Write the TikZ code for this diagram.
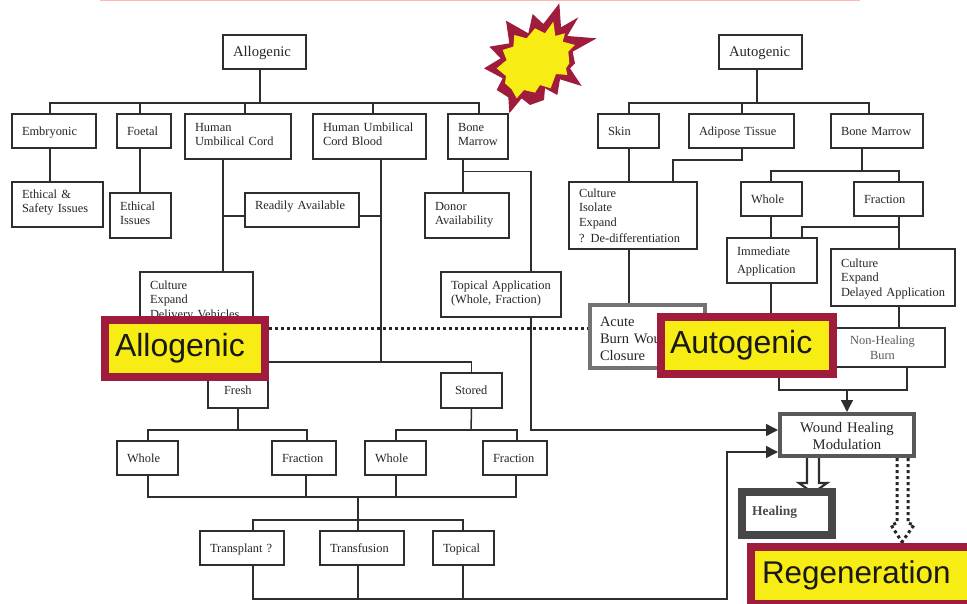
\documentclass[tikz,border=0pt]{standalone}
\usepackage{fontspec}
\setmainfont{Liberation Serif}
\newfontfamily\ovfont{Liberation Sans}
\usetikzlibrary{arrows.meta,calc}
\pgfdeclarelayer{wires}\pgfsetlayers{wires,main}
\definecolor{ink}{HTML}{2E2E2E}
\definecolor{crim}{HTML}{A01C3C}
\definecolor{yel}{HTML}{F7EC13}
\newcommand{\lift}[1]{\rule[-#1pt]{0pt}{#1pt}}
\tikzset{
  bx/.style 2 args={draw=ink,line width=1.5pt,fill=white,inner xsep=10pt,inner ysep=0pt,
    text width=#1pt-20pt,minimum height=#2pt,align=left,text=black!85,
    font=\fontsize{12.4}{14.3}\selectfont,
    execute at begin node={\strut\rule{0pt}{13pt}},execute at end node=\strut},
  big/.style={font=\fontsize{14.7}{17}\selectfont},
  wire/.style={draw=ink,line width=1.5pt},
  tip/.style={-{Triangle[length=12pt,width=12pt]}},
  dots/.style={draw=black!85,line width=3pt,dash pattern=on 3pt off 3pt},
  ov/.style 2 args={draw=crim,line width=7.5pt,fill=yel,inner xsep=10pt,inner ysep=0pt,
    text width=#1pt-20pt,minimum height=#2pt,align=left,text=black!90,
    font=\ovfont\fontsize{32}{36}\selectfont},
}
\begin{document}
\begin{tikzpicture}[x=1pt,y=-1pt]
\path[use as bounding box,clip] (0,0) rectangle (967,604);
\coordinate (busA) at (260,103);
\coordinate (busB) at (757,103);
\coordinate (busU) at (381,362);
\coordinate (busF) at (238,430);
\coordinate (busS) at (471,430);
\coordinate (busT) at (358,497);
\coordinate (busP) at (358,520);
\coordinate (busQ) at (358,599);
\coordinate (busM) at (862,171);
\coordinate (busH) at (847,390);
\coordinate (brA) at (531,171);
\coordinate (brB) at (742,160);
\coordinate (brC) at (899,227);
\coordinate (jL) at (223,216);
\coordinate (jR) at (381,216);
\coordinate (jW) at (727,452);

\node[bx={83}{34},big] (alloT) at (264.5,52) {\rule{0pt}{15pt}Allogenic};
\node[bx={84}{34}] (emb) at (54,131) {Embryonic};
\node[bx={54}{34}] (foe) at (144,131) {Foetal};
\node[bx={106}{45}] (huc) at (238,136.5) {Human\\Umbilical Cord\lift{8.7}};
\node[bx={113}{45}] (hucb) at (369.5,136.5) {Human Umbilical\\Cord Blood\lift{8.7}};
\node[bx={60}{45}] (bm) at (478,136.5) {Bone\\Marrow\lift{8.7}};
\node[bx={91}{45}] (eth) at (57.5,204.5) {Ethical \&\\Safety Issues\lift{10.7}};
\node[bx={61}{45}] (ethi) at (140.5,215.5) {Ethical\\Issues\lift{9.3}};
\node[bx={114}{34}] (ready) at (302,210) {Readily Available\lift{13}};
\node[bx={84}{45}] (donor) at (467,215.5) {Donor\\Availability\lift{9.3}};
\node[bx={113}{55}] (cult) at (196.5,299.5) {Culture\\Expand\\Delivery Vehicles};
\node[bx={120}{45}] (topap) at (501,294.5) {Topical Application\\(Whole, Fraction)\lift{8.7}};
\node[bx={60}{35},inner xsep=16pt,text width=28pt] (fresh) at (238,390.5) {Fresh};
\node[bx={61}{35},inner xsep=14pt,text width=33pt] (stored) at (471.5,390.5) {Stored};
\node[bx={61}{34}] (w1) at (147.5,458) {Whole};
\node[bx={64}{34}] (f1) at (304,458) {Fraction};
\node[bx={61}{34}] (w2) at (395.5,458) {Whole};
\node[bx={64}{34}] (f2) at (515,458) {Fraction};
\node[bx={84}{34}] (trans) at (242,548) {Transplant ?};
\node[bx={84}{34}] (transf) at (362,548) {Transfusion};
\node[bx={61}{34}] (topic) at (463.5,548) {Topical};
\node[bx={83}{34},big] (autoT) at (760.5,52) {\rule{0pt}{15pt}Autogenic};
\node[bx={61}{34}] (skin) at (628.5,131) {Skin};
\node[bx={105}{34}] (adip) at (741.5,131) {Adipose Tissue};
\node[bx={92}{34}] (bm2) at (877,131) {Bone Marrow};
\node[bx={128}{67}] (clt) at (633,215.5) {Culture\\Isolate\\Expand\\[1.5pt]? De-differentiation};
\node[bx={61}{34}] (w3) at (771.5,199) {Whole};
\node[bx={69}{34}] (f3) at (888.5,199) {Fraction};
\node[bx={90}{45},font=\fontsize{12.4}{18}\selectfont] (imm) at (772,260.5) {Immediate\\Application};
\node[bx={124}{57}] (delay) at (893,277.5) {Culture\\Expand\\Delayed Application};
\node[bx={115}{63},draw=black!55,line width=3.5pt,font=\fontsize{14.5}{17}\selectfont] (acute) at (647.5,336.5) {\rule{0pt}{20pt}Acute\\Burn Wound\\Closure};
\node[bx={125}{39},align=center,text=black!65] (nonh) at (882.5,347.5) {Non-Healing\\Burn};
\node[bx={134}{42},draw=black!65,line width=4pt,align=center,font=\fontsize{14.7}{17}\selectfont] (wound) at (847,435) {\rule{0pt}{18pt}Wound Healing\\Modulation};
\node[bx={90}{43},draw=black!72,line width=7.5pt,text=black!70,font=\bfseries\fontsize{13.5}{16}\selectfont] (heal) at (787,513.5) {Healing\lift{9}};
\node[ov={160}{57}] (allo) at (185,348.5) {Allogenic};
\node[ov={172}{57},inner xsep=9pt,text width=154pt] (autoO) at (747,345.5) {Autogenic};
\node[ov={224}{57},inner xsep=11pt,text width=202pt,font=\ovfont\fontsize{31.4}{36}\selectfont] (regen) at (863,575.5) {Regeneration};

\begin{pgfonlayer}{wires}
\fill[white] (0,0) rectangle (967,604);
\fill[red!50!pink!45] (100,0) rectangle (860,1.3);
\draw[wire] (alloT.south -| busA) -- (busA);
\draw[wire] (emb.north -| 50,0) |- (busA);
\draw[wire] (foe.north -| 140,0) |- (busA);
\draw[wire] (huc.north -| 245,0) |- (busA);
\draw[wire] (hucb.north -| 373,0) |- (busA);
\draw[wire] (bm.north -| 479,0) |- (busA);
\draw[wire] (emb.south -| 50,0) -- (eth.north -| 50,0);
\draw[wire] (foe.south -| 140,0) -- (ethi.north -| 140,0);
\draw[wire] (huc.south -| 223,0) -- (cult.north -| 223,0);
\draw[wire] (ready.west |- jL) -- (jL);
\draw[wire] (ready.east |- jR) -- (jR);
\draw[wire] (hucb.south -| busU) -- (busU);
\draw[wire] (fresh.north) |- (busU);
\draw[wire] (stored.north) |- (busU);
\draw[wire] (bm.south -| 463,0) -- (donor.north -| 463,0);
\draw[wire] (bm.south -| 463,0) ++(0,12) -| (brA) -- (topap.north -| brA);
\draw[wire,tip] (topap.south -| brA) |- (wound.west |- 0,430);
\draw[wire] (fresh.south) -- (busF);
\draw[wire] (w1.north -| 148,0) |- (busF);
\draw[wire] (f1.north -| 307,0) |- (busF);
\draw[wire] (stored.south) -- (busS);
\draw[wire] (w2.north -| 396,0) |- (busS);
\draw[wire] (f2.north -| 517,0) |- (busS);
\draw[wire] (w1.south -| 148,0) |- (busT);
\draw[wire] (f1.south -| 306,0) |- (busT);
\draw[wire] (w2.south -| 396,0) |- (busT);
\draw[wire] (f2.south -| 516,0) |- (busT);
\draw[wire] (busT) -- (transf.north -| busT);
\draw[wire] (trans.north -| 253,0) |- (busP);
\draw[wire] (topic.north -| 463,0) |- (busP);
\draw[wire] (trans.south -| 253,0) |- (busQ);
\draw[wire] (transf.south -| busQ) -- (busQ);
\draw[wire] (topic.south -| 463,0) |- (busQ);
\draw[wire,tip] (busQ) -| (jW) -- (wound.west |- jW);
\draw[wire] (autoT.south -| busB) -- (busB);
\draw[wire] (skin.north -| 629,0) |- (busB);
\draw[wire] (adip.north -| 742,0) |- (busB);
\draw[wire] (bm2.north -| 869,0) |- (busB);
\draw[wire] (skin.south -| 629,0) -- (clt.north -| 629,0);
\draw[wire] (adip.south -| brB) -- (brB) -| (clt.north -| 673,0);
\draw[wire] (bm2.south -| busM) -- (busM);
\draw[wire] (w3.north -| 771,0) |- (busM);
\draw[wire] (f3.north -| 899,0) |- (busM);
\draw[wire] (w3.south -| 771,0) -- (imm.north -| 771,0);
\draw[wire] (imm.south -| 771,0) -- (autoO.north -| 771,0);
\draw[wire] (f3.south -| brC) -- (delay.north -| brC);
\draw[wire] (brC) -| (imm.north -| 802,0);
\draw[wire] (delay.south -| brC) -- (nonh.north -| brC);
\draw[wire] (clt.south -| 629,0) -- (acute.north -| 629,0);
\draw[wire] (autoO.south -| 779,0) |- (busH);
\draw[wire] (nonh.south -| 907,0) |- (busH);
\draw[wire,tip] (busH) -- (wound.north -| busH);
\draw[dots] (allo.east |- 0,328) -- (acute.west |- 0,328);
\draw[wire,line width=2.2pt] (wound.south -| 807,0) -- (807,483) -- (799,483) -- (813,493) -- (827,483) -- (819,483) -- (wound.south -| 819,0);
\draw[dots] (wound.south -| 897,0) -- (897,523) -- (891,525) -- (902,542) -- (regen.north -| 902,0);
\draw[dots] (wound.south -| 908,0) -- (908,523) -- (914,525) -- (902,542);
\end{pgfonlayer}

\begin{scope}[shift={(480,0)},x=0.3333pt,y=-0.3333pt]
\fill[crim] (238,10)--(243,82)--(295,52)--(262,108)--(350,115)--(278,155)--(285,190)--(270,205)--(305,258)--(240,238)--(232,285)--(195,265)--(192,300)--(150,315)--(125,295)--(88,340)--(85,292)--(50,270)--(68,235)--(12,205)--(62,175)--(28,140)--(88,130)--(78,62)--(145,100)--(158,42)--(190,72)--cycle;
\fill[yel] (220,65)--(226,108)--(255,100)--(248,125)--(285,135)--(265,155)--(268,190)--(258,205)--(262,225)--(228,222)--(212,265)--(180,255)--(165,278)--(132,270)--(110,295)--(95,268)--(75,250)--(78,228)--(50,205)--(80,180)--(68,150)--(100,140)--(103,105)--(140,115)--(165,85)--(195,100)--cycle;
\end{scope}
\end{tikzpicture}
\end{document}
